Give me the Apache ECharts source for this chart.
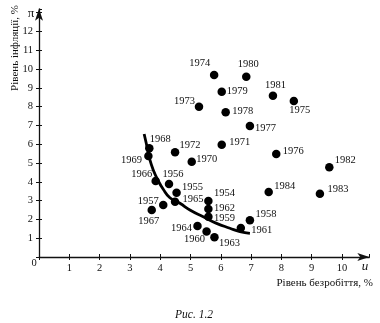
<!DOCTYPE html>
<html><head><meta charset="utf-8">
<script src="https://cdn.jsdelivr.net/npm/echarts@6/dist/echarts.min.js"></script>
<style>html,body{margin:0;padding:0;background:#fff}#c{width:380px;height:323px}</style>
</head><body><div id="c"></div>
<script>
// ---- data ----
const years = [1954,1955,1956,1957,1958,1959,1960,1961,1962,1963,1964,1965,1966,1967,1968,1969,
  1970,1971,1972,1973,1974,1975,1976,1977,1978,1979,1980,1981,1982,1983,1984];
const unemployment = [5.59,4.54,4.29,4.10,6.96,5.59,5.53,6.66,5.59,5.79,5.23,4.49,3.85,3.72,3.64,3.61,
  5.04,6.03,4.49,5.28,5.78,8.41,7.83,6.96,6.16,6.03,6.84,7.72,9.58,9.27,7.58];
const inflation = [2.98,3.42,3.88,2.77,1.95,2.14,1.35,1.54,2.55,1.05,1.65,2.94,4.04,2.50,5.78,5.37,
  5.07,5.97,5.57,7.99,9.68,8.30,5.48,6.97,7.70,8.79,9.59,8.58,4.77,3.37,3.46];
const curveU  = [3.47,3.59,3.66,3.77,3.92,4.10,4.32,4.65,4.98,5.42,5.86,6.30,6.63,6.96];
const curvePi = [6.54,5.69,5.16,4.63,4.10,3.60,3.15,2.86,2.50,2.14,1.79,1.53,1.35,1.26];
const xTicks = [1,2,3,4,5,6,7,8,9,10];
const yTicks = [1,2,3,4,5,6,7,8,9,10,11,12];

// ---- label placement (style only, offsets of label centre from dot in px) ----
const labelOffset = {
  1954:[16,-8],1955:[16,-5],1956:[4,-10],1957:[-15,-4],1958:[16,-6],1959:[16,1],1960:[-12,8],
  1961:[21,2],1962:[16,-1],1963:[15,6],1964:[-16,2],1965:[18,-2],1966:[-14,-7],1967:[-3,11],
  1968:[11,-9],1969:[-17,4],1970:[15,-2],1971:[18,-2],1972:[15,-7],1973:[-14.5,-6],1974:[-14.5,-12],
  1975:[6,9],1976:[17,-3],1977:[15.5,2],1978:[17,-1],1979:[15.5,0],1980:[2,-12],1981:[2.5,-10],
  1982:[16,-7],1983:[18,-4],1984:[16,-6]
};

const serif = '"Liberation Serif","DejaVu Serif",serif';
const txt = '#111';

const points = years.map((y,i)=>({
  value:[unemployment[i], inflation[i]],
  label:{show:true, formatter:String(y), position:'inside', align:'center', verticalAlign:'middle',
    offset:labelOffset[y], color:txt, fontFamily:serif, fontSize:10.5}
}));
const curve = curveU.map((u,i)=>[u, curvePi[i]]);

const chart = echarts.init(document.getElementById('c'), null, {renderer:'canvas'});
const axisCommon = {min:0, interval:1, splitLine:{show:false}};
chart.setOption({
  animation:false,
  backgroundColor:'#fff',
  grid:{left:39, top:8.8, width:330.3, height:248.2, containLabel:false},
  xAxis:[
    Object.assign({type:'value', max:10.9,
      axisLine:{show:true, onZero:false, lineStyle:{color:'#111', width:1.3}, symbol:['none','arrow'], symbolSize:[6,12]},
      axisTick:{show:true, length:3, lineStyle:{color:'#111'}},
      axisLabel:{show:true, margin:6, color:txt, fontFamily:serif, fontSize:10.5,
        formatter:v=> xTicks.indexOf(v)>=0 ? String(v) : '', showMaxLabel:false}
    }, axisCommon),
    Object.assign({type:'value', max:10.9, position:'bottom',
      axisLine:{show:false}, axisTick:{show:true, inside:true, length:3, lineStyle:{color:'#111'}},
      axisLabel:{show:false}}, axisCommon)
  ],
  yAxis:[
    Object.assign({type:'value', max:13.2,
      axisLine:{show:true, onZero:false, lineStyle:{color:'#111', width:1.3}, symbol:['none','arrow'], symbolSize:[6,12]},
      axisTick:{show:true, length:3, lineStyle:{color:'#111'}},
      axisLabel:{show:true, margin:6, color:txt, fontFamily:serif, fontSize:10.5,
        formatter:v=> yTicks.indexOf(v)>=0 ? String(v) : '', showMaxLabel:false}
    }, axisCommon),
    Object.assign({type:'value', max:13.2, position:'left',
      axisLine:{show:false}, axisTick:{show:true, inside:true, length:3, lineStyle:{color:'#111'}},
      axisLabel:{show:false}}, axisCommon)
  ],
  series:[
    {type:'line', data:curve, smooth:0.5, showSymbol:false, symbol:'none',
      lineStyle:{color:'#000', width:2.8}, silent:true, z:2},
    {type:'scatter', data:points, symbol:'circle', symbolSize:8.5,
      itemStyle:{color:'#000', opacity:1}, z:3}
  ],
  graphic:[
    {type:'text', x:15, y:48, rotation:Math.PI/2,
      style:{text:'Рівень інфляції, %', fill:txt, font:'11px '+serif, textAlign:'center', textVerticalAlign:'middle'}},
    {type:'text', x:373, y:283,
      style:{text:'Рівень безробіття, %', fill:txt, font:'11px '+serif, textAlign:'right', textVerticalAlign:'middle'}},
    {type:'text', x:31, y:14,
      style:{text:'π', fill:txt, font:'13px '+serif, textAlign:'center', textVerticalAlign:'middle'}},
    {type:'text', x:365, y:267,
      style:{text:'u', fill:txt, font:'italic 13px '+serif, textAlign:'center', textVerticalAlign:'middle'}},
    {type:'text', x:34, y:263,
      style:{text:'0', fill:txt, font:'10.5px '+serif, textAlign:'center', textVerticalAlign:'middle'}},
    {type:'text', x:175, y:315,
      style:{text:'Рис. 1.2', fill:txt, font:'italic 11.5px '+serif, textAlign:'left', textVerticalAlign:'middle'}}
  ]
});
</script></body></html>
